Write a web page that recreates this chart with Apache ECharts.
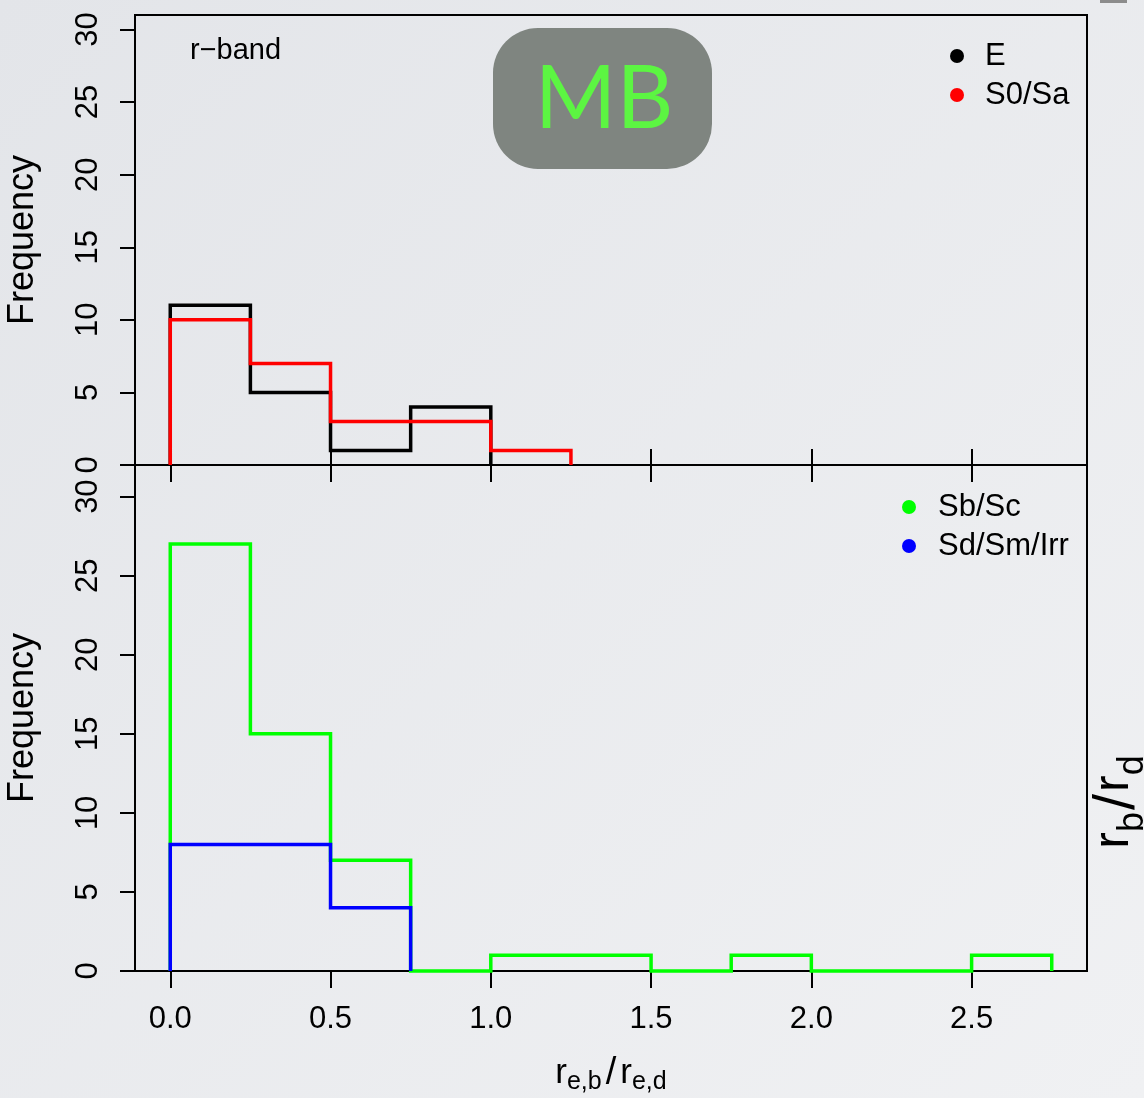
<!DOCTYPE html>
<html><head><meta charset="utf-8">
<script src="https://cdn.jsdelivr.net/npm/echarts@6/dist/echarts.min.js"></script>
<style>html,body{margin:0;padding:0;background:#e8eaed;}#c{width:1144px;height:1098px;}</style>
</head><body><div id="c"></div>
<script>
// ---- data ----
const binEdges = [0, 0.25, 0.5, 0.75, 1.0, 1.25, 1.5, 1.75, 2.0, 2.25, 2.5, 2.75];
const countsE = [11, 5, 1, 4];
const countsS0Sa = [10, 7, 3, 3, 1];
const countsSbSc = [27, 15, 7, 0, 1, 1, 0, 1, 0, 0, 1];
const countsSdSmIrr = [8, 8, 4];
const yTicksTop = [0, 5, 10, 15, 20, 25, 30];
const yTicksBottom = [0, 5, 10, 15, 20, 25, 30];
const xTicks = [0, 0.5, 1.0, 1.5, 2.0, 2.5];
const legendTop = ['E', 'S0/Sa'];
const legendBottom = ['Sb/Sc', 'Sd/Sm/Irr'];

function stepPoints(counts) {
  const pts = [[binEdges[0], 0]];
  counts.forEach((c, i) => { pts.push([binEdges[i], c]); pts.push([binEdges[i + 1], c]); });
  pts.push([binEdges[counts.length], 0]);
  return pts;
}

const FONT = '"Liberation Sans", Arial, Helvetica, sans-serif';
const chart = echarts.init(document.getElementById('c'), null, {renderer: 'canvas'});

function xAxisCfg(grid, opts) {
  return Object.assign({
    type: 'value', gridIndex: grid, min: -0.11, max: 2.86,
    axisLine: {show: false, onZero: false}, splitLine: {show: false},
    axisTick: {show: true, customValues: xTicks, length: 17, lineStyle: {color: '#000', width: 2}},
    axisLabel: {show: false}
  }, opts);
}
function yAxisCfg(grid, max, ticks) {
  return {
    type: 'value', gridIndex: grid, min: 0, max: max, position: 'left',
    axisLine: {show: false, onZero: false}, splitLine: {show: false},
    axisTick: {show: true, customValues: ticks, length: 15, lineStyle: {color: '#000', width: 2}},
    axisLabel: {show: true, customValues: ticks, rotate: 90, margin: 31, fontSize: 31, color: '#000', fontFamily: FONT},
    name: 'Frequency', nameLocation: 'middle', nameRotate: 90, nameGap: 94,
    nameTextStyle: {fontSize: 36, color: '#000', fontFamily: FONT}
  };
}
function lineSeries(name, counts, color, xi, yi) {
  return {
    name: name, type: 'line', xAxisIndex: xi, yAxisIndex: yi,
    data: stepPoints(counts), showSymbol: false, symbol: 'none', clip: false,
    color: color, itemStyle: {color: color},
    lineStyle: {color: color, width: 3.5, join: 'miter', cap: 'butt'},
    emphasis: {disabled: true}, animation: false
  };
}

chart.setOption({
  animation: false,
  grid: [
    {left: 135, top: 15, width: 952, height: 450, containLabel: false, outerBoundsMode: 'none',
      show: true, borderColor: '#000', borderWidth: 2, backgroundColor: 'transparent'},
    {left: 135, top: 465, width: 952, height: 506, containLabel: false, outerBoundsMode: 'none',
      show: true, borderColor: '#000', borderWidth: 2, backgroundColor: 'transparent'}
  ],
  xAxis: [
    xAxisCfg(0, {position: 'bottom'}),
    xAxisCfg(1, {
      position: 'bottom',
      axisLabel: {show: true, customValues: xTicks, margin: 33, fontSize: 31, color: '#000', fontFamily: FONT,
        formatter: v => Number(v).toFixed(1)},
      name: 'r{s|e,b}{l|/}r{s|e,d}', nameLocation: 'middle', nameGap: 84,
      nameTextStyle: {fontSize: 35, color: '#000', fontFamily: FONT, lineHeight: 36, verticalAlign: 'top',
        rich: {
          s: {fontSize: 25, color: '#000', fontFamily: FONT, lineHeight: 25, padding: [15, 0, 0, 0], verticalAlign: 'top'},
          l: {fontSize: 38, color: '#000', fontFamily: FONT, lineHeight: 36, padding: [0, 4, 0, 4], verticalAlign: 'top'}
        }}
    }),
    xAxisCfg(1, {position: 'top', axisTick: {show: true, customValues: xTicks, length: 16, lineStyle: {color: '#000', width: 2}}})
  ],
  yAxis: [yAxisCfg(0, 31, yTicksTop), yAxisCfg(1, 32, yTicksBottom)],
  legend: [
    {data: legendTop, orient: 'vertical', left: 945, top: 35, icon: 'circle', itemWidth: 14, itemHeight: 14, itemGap: 7,
      selectedMode: false, textStyle: {fontSize: 31, color: '#000', fontFamily: FONT, lineHeight: 32, padding: [0, 0, 0, 16]}},
    {data: legendBottom, orient: 'vertical', left: 897, top: 486, icon: 'circle', itemWidth: 14, itemHeight: 14, itemGap: 7,
      selectedMode: false, textStyle: {fontSize: 31, color: '#000', fontFamily: FONT, lineHeight: 32, padding: [0, 0, 0, 17]}}
  ],
  series: [
    lineSeries('E', countsE, '#000000', 0, 0),
    lineSeries('S0/Sa', countsS0Sa, '#ff0000', 0, 0),
    lineSeries('Sb/Sc', countsSbSc, '#00ff00', 1, 1),
    lineSeries('Sd/Sm/Irr', countsSdSmIrr, '#0000ff', 1, 1)
  ],
  graphic: [
    {type: 'rect', z: -100, silent: true, shape: {x: 0, y: 0, width: 1144, height: 1098},
      style: {fill: {type: 'linear', x: 0, y: 0, x2: 1, y2: 1, colorStops: [{offset: 0, color: '#e3e5e9'}, {offset: 1, color: '#f0f1f3'}]}}},
    {type: 'rect', z: -90, silent: true, shape: {x: 1100, y: 0, width: 27, height: 3}, style: {fill: '#8c8c8c'}},
    {type: 'rect', z: 10, silent: true, shape: {x: 493, y: 28, width: 219, height: 141, r: 45}, style: {fill: '#7f8580'}},
    {type: 'text', z: 11, silent: true, x: 604, y: 100,
      style: {text: 'MB', fill: '#5cf542', font: '400 88px Lato, "Open Sans", sans-serif', align: 'center', verticalAlign: 'middle'}},
    {type: 'text', z: 11, silent: true, x: 190, y: 51,
      style: {text: 'r\u2212band', fill: '#000', font: '29px ' + FONT, align: 'left', verticalAlign: 'middle'}},
    {type: 'text', z: 11, silent: true, x: 1114, y: 802, rotation: Math.PI / 2,
      style: {text: 'r{s|b}{l|/}r{s|d}', fill: '#000', font: '50px ' + FONT, lineHeight: 50, align: 'center', verticalAlign: 'middle',
        rich: {s: {fontSize: 36, fontFamily: FONT, fill: '#000', lineHeight: 36, padding: [26, 0, 0, 0], verticalAlign: 'top'},
               l: {fontSize: 58, fontFamily: FONT, fill: '#000', lineHeight: 50, verticalAlign: 'top', padding: [0, 2, 0, 2]}}}}
  ]
});
</script></body></html>
